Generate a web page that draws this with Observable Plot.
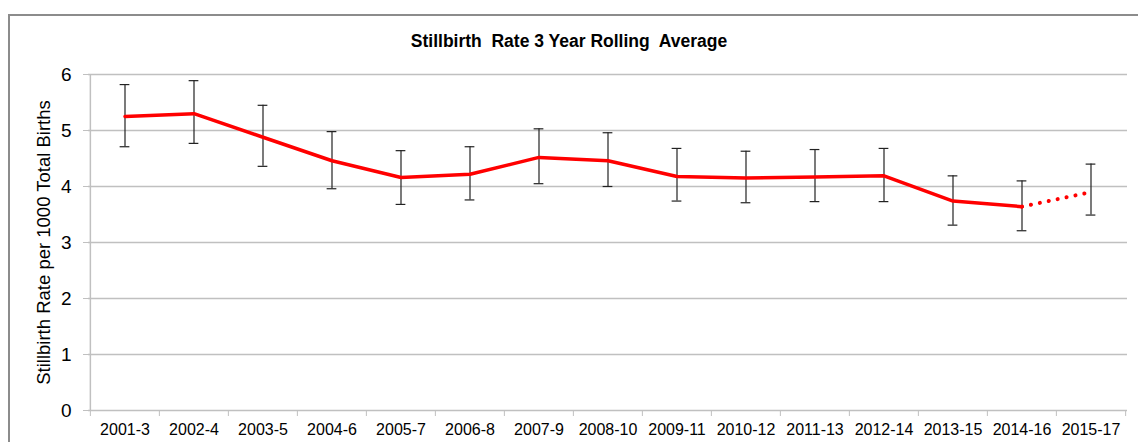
<!DOCTYPE html>
<html>
<head>
<meta charset="utf-8">
<script src="https://cdn.jsdelivr.net/npm/d3@7"></script>
<script src="https://cdn.jsdelivr.net/npm/@observablehq/plot@0.6"></script>
<style>
  html, body { margin: 0; padding: 0; background: #fff; width: 1138px; height: 442px; overflow: hidden; }
  #frame { position: absolute; left: 8px; top: 14px; width: 1200px; height: 500px;
           border-top: 2px solid #8c8c8c; border-left: 2px solid #8c8c8c; }
  #title { position: absolute; left: 0; top: 31px; width: 1138px; text-align: center;
           font: bold 17.5px "Liberation Sans", Arial, sans-serif; color: #000; }
  #chart { position: absolute; left: 0; top: 0; }
</style>
</head>
<body>
<div id="frame"></div>
<div id="title">Stillbirth&nbsp; Rate 3 Year Rolling&nbsp; Average</div>
<div id="chart"></div>
<script>
const periods = ["2001-3","2002-4","2003-5","2004-6","2005-7","2006-8","2007-9","2008-10","2009-11","2010-12","2011-13","2012-14","2013-15","2014-16","2015-17"];
const rates   = [5.25, 5.30, 4.88, 4.46, 4.16, 4.22, 4.52, 4.46, 4.18, 4.15, 4.17, 4.19, 3.74, 3.64, 3.90];
const lower   = [4.71, 4.77, 4.36, 3.96, 3.68, 3.76, 4.05, 4.00, 3.74, 3.71, 3.73, 3.73, 3.31, 3.21, 3.49];
const upper   = [5.82, 5.89, 5.45, 4.98, 4.64, 4.71, 5.03, 4.96, 4.68, 4.63, 4.66, 4.68, 4.19, 4.10, 4.40];
const yTicks  = [0, 1, 2, 3, 4, 5, 6];
const yLabel  = "Stillbirth Rate per 1000 Total Births";

const data = periods.map((p, i) => ({period: p, rate: rates[i], lo: lower[i], hi: upper[i], i}));
const solid = data.slice(0, data.length - 1);
const dotted = data.slice(data.length - 2);

const W = 1138, H = 442;
const mL = 88, mR = 11, mT = 74, mB = 32;
const bw = (W - mL - mR) / periods.length;
const font = '"Liberation Sans", Arial, sans-serif';

const chart = Plot.plot({
  width: W, height: H,
  marginLeft: mL, marginRight: mR, marginTop: mT, marginBottom: mB,
  style: {fontFamily: font, color: "#000", background: "transparent", overflow: "visible"},
  x: {type: "band", domain: periods, padding: 0},
  y: {domain: [0, 6]},
  marks: [
    Plot.gridY(yTicks.filter(d => d > 0), {stroke: "#c0c0c0", strokeOpacity: 1, strokeWidth: 1.5}),
    Plot.ruleY([0], {stroke: "#c0c0c0", strokeWidth: 1.5}),
    Plot.ruleX([periods[0]], {dx: -bw / 2, stroke: "#c0c0c0", strokeWidth: 1.5}),
    // y axis
    Plot.axisY(yTicks, {tickSize: 5, tickPadding: 12, fontSize: 19, tickFormat: d3.format("d"), stroke: "#c0c0c0", fill: "#000", label: null}),
    // x axis boundary ticks
    Plot.axisX(periods, {tickSize: 6, tickFormat: () => "", dx: -bw / 2, stroke: "#c0c0c0", label: null}),
    Plot.axisX([periods[periods.length - 1]], {tickSize: 6, tickFormat: () => "", dx: bw / 2, stroke: "#c0c0c0", label: null}),
    // x labels
    Plot.axisX(periods, {tickSize: 0, tickPadding: 13, fontSize: 16, label: null}),
    Plot.text([yLabel], {frameAnchor: "left", textAnchor: "middle", rotate: -90, dx: -44, fontSize: 18.5, fill: "#000"}),
    // error bars
    Plot.ruleX(data, {x: "period", y1: "lo", y2: "hi", stroke: "#222", strokeWidth: 1.2}),
    Plot.tickY(data, {x: "period", y: "hi", stroke: "#222", strokeWidth: 1.2, insetLeft: bw / 2 - 5, insetRight: bw / 2 - 5}),
    Plot.tickY(data, {x: "period", y: "lo", stroke: "#222", strokeWidth: 1.2, insetLeft: bw / 2 - 5, insetRight: bw / 2 - 5}),
    // line
    Plot.line(solid, {x: "period", y: "rate", stroke: "#ff0000", strokeWidth: 3.5, strokeLinejoin: "round"}),
    Plot.line(dotted, {x: "period", y: "rate", stroke: "#ff0000", strokeWidth: 4, strokeLinecap: "round", strokeDasharray: "0.1 9", dashoffset: 9})
  ]
});
document.getElementById("chart").appendChild(chart);
</script>
</body>
</html>
